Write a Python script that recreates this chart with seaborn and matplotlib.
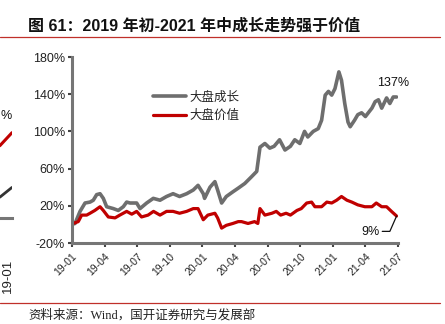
import matplotlib
matplotlib.use("Agg")
import matplotlib.pyplot as plt
import seaborn as sns
import pandas as pd
from matplotlib.lines import Line2D

# ---- data (x = months since 2019-01) ----
growth_m = [0, 0.28, 0.74, 1.2, 1.66, 1.96, 2.27, 2.58, 2.88, 3.19,
            3.8, 4.26, 4.72, 5.03, 5.34, 5.95, 6.26, 6.87, 7.48, 8.1,
            8.7, 9.3, 9.9, 10.55, 11.16, 11.6, 12.08, 12.2, 12.7, 13.15,
            13.4, 13.77, 14.2, 14.8, 15.3, 15.9, 16.5, 17.0, 17.3, 17.75,
            18.2, 18.6, 19.1, 19.6, 20.1, 20.5, 20.97, 21.4, 21.7, 22.2,
            22.66, 22.97, 23.3, 23.6, 23.9, 24.2, 24.56, 24.8, 25.1, 25.4,
            25.6, 26.0, 26.3, 26.65, 27.0, 27.6, 27.9, 28.2, 28.5, 28.95,
            29.25, 29.56, 29.87]
growth = [0, 1, 14, 23, 24, 26, 32, 33, 28, 19,
          17, 15, 19, 24, 23, 23, 17, 23, 28, 26,
          30, 33, 30, 33, 37, 42, 33, 28, 40, 46,
          37, 23, 30, 35, 39, 44, 51, 57, 83, 87,
          82, 84, 91, 80, 84, 91, 87, 100, 94, 100,
          103, 112, 139, 143, 139, 146, 164, 155, 130, 110,
          105, 112, 118, 120, 116, 125, 132, 134, 125, 136,
          130, 137, 137]
value_m = [0, 0.1, 0.58, 0.89, 1.35, 1.66, 2.1, 2.58, 2.88, 3.34,
           3.96, 4.4, 5.03, 5.5, 5.95, 6.4, 7.0, 7.5, 8.1, 8.7,
           9.3, 9.9, 10.55, 11.16, 11.6, 12.08, 12.5, 13.15, 13.4, 13.77,
           14.2, 14.8, 15.3, 15.6, 16.2, 16.8, 17.1, 17.3, 17.75, 18.4,
           18.8, 19.2, 19.7, 20.1, 20.7, 21.1, 21.6, 22.05, 22.35, 22.97,
           23.45, 23.9, 24.35, 24.8, 25.3, 25.75, 26.3, 26.95, 27.6, 28.0,
           28.5, 28.95, 29.4, 29.87]
value = [0, 1, 3, 10, 10, 12, 15, 19, 15, 8,
         7, 10, 14, 11, 14, 8, 10, 14, 10, 14,
         14, 12, 14, 17, 17, 5, 10, 12, 7, -4,
         -1, 1, 3, 3, 1, 3, 1, 17, 10, 12,
         14, 10, 12, 10, 15, 17, 23, 24, 19, 19,
         24, 23, 26, 30, 26, 24, 21, 19, 19, 23,
         19, 19, 14, 9]
series_names = ["大盘成长", "大盘价值"]
tick_pos = [0, 3, 6, 9, 12, 15, 18, 21, 24, 27, 30]
tick_labels = ["19-01", "19-04", "19-07", "19-10", "20-01", "20-04",
               "20-07", "20-10", "21-01", "21-04", "21-07"]
y_ticks = [-20, 20, 60, 100, 140, 180]
end_growth_label = "137%"
end_value_label = "9%"

# fragment of the neighbouring chart visible at the left edge
left_x = [0, 1, 2, 3]
left_red = [54, 62, 70, 86]
left_black = [0, 3, 6, 18]

title = "图 61：2019 年初-2021 年中成长走势强于价值"
source = "资料来源：Wind，国开证券研究与发展部"

sns.set_theme(style="white")
plt.rcParams["font.family"] = ["Liberation Sans", "Noto Sans CJK SC", "DejaVu Sans"]

GRAY = "#6e6e6e"
RED = "#c00000"
SPINE = "#767676"

W, H = 445, 324
fig = plt.figure(figsize=(W / 100, H / 100), dpi=100)

df = pd.DataFrame({
    "m": growth_m + value_m,
    "v": growth + value,
    "s": [series_names[0]] * len(growth_m) + [series_names[1]] * len(value_m),
})

# ---- main axes ----
x0, x1, ytop, ybot = 72, 398, 57, 243
ax = fig.add_axes([x0 / W, 1 - ybot / H, (x1 - x0) / W, (ybot - ytop) / H])
sns.lineplot(data=df, x="m", y="v", hue="s", palette=[GRAY, RED],
             ax=ax, legend=False, estimator=None, sort=False)
ax.lines[0].set_linewidth(2.6)
ax.lines[1].set_linewidth(2.3)
ax.set_xlim(0, 30)
ax.set_ylim(-20, 180)
ax.set_xticks(tick_pos)
ax.set_xticklabels(tick_labels, rotation=45, ha="right", rotation_mode="anchor",
                   fontsize=7.5, color="#222222")
ax.set_yticks(y_ticks)
ax.set_yticklabels([f"{t}%" for t in y_ticks], fontsize=9, color="#222222")
ax.set_xlabel("")
ax.set_ylabel("")
for s in ["top", "right"]:
    ax.spines[s].set_visible(False)
for s in ["left", "bottom"]:
    ax.spines[s].set_color(SPINE)
    ax.spines[s].set_linewidth(2.2)
ax.tick_params(axis="both", which="major", direction="out", length=3, width=1.5,
               color="#444444", pad=2, left=True, bottom=True)
ax.tick_params(axis="x", pad=3)
ax.set_facecolor("none")

# legend
handles = [Line2D([], [], color=GRAY, lw=2.6), Line2D([], [], color=RED, lw=2.3)]
ax.legend(handles, series_names, loc="upper left", bbox_to_anchor=(0.215, 0.88),
          frameon=False, handlelength=2.6, handletextpad=0.3,
          labelspacing=0.45, prop={"family": ["Noto Sans CJK SC"], "size": 9})

# annotations
ax.text(29.55, 152, end_growth_label, ha="center", va="center", fontsize=9, color="#111111")
ax.plot([value_m[-1], 29.25, 28.55], [value[-1], -7.5, -7.5], color="#111111", lw=0.9)
ax.text(28.3, -8, end_value_label, ha="right", va="center", fontsize=9, color="#111111")

# ---- fragment of previous chart at left edge ----
lx1 = 12
axl = fig.add_axes([-60 / W, 1 - 218 / H, (lx1 + 60) / W, (218 - ytop) / H])
axl.plot(left_x, left_red, color=RED, lw=2.2)
axl.plot(left_x, left_black, color="#333333", lw=2.0)
axl.set_xlim(-3, 3)
axl.set_ylim(-20, 180)
axl.set_yticks([])
axl.set_xticks([2.7])
axl.set_xticklabels(["19-01"], rotation=90, fontsize=9.5, color="#222222", va="top")
axl.tick_params(axis="x", direction="out", length=3, width=1.5, color="#444444", pad=26)
for s in ["top", "right", "left"]:
    axl.spines[s].set_visible(False)
axl.spines["bottom"].set_color(SPINE)
axl.spines["bottom"].set_linewidth(2.2)
axl.set_facecolor("none")
fig.text(0.5 / W, 1 - 116 / H, "%", ha="left", va="center", fontsize=9, color="#111111")

# ---- title, rules, source ----
fig.text(28 / W, 1 - 26 / H, title, fontsize=11.5, fontweight="bold", color="#111111",
         ha="left", va="center")
fig.add_artist(Line2D([0, 440 / W], [1 - 37 / H, 1 - 37 / H], color="#c0302a", lw=0.9))
fig.add_artist(Line2D([0, 440 / W], [1 - 303 / H, 1 - 303 / H], color="#c0302a", lw=0.9))
fig.text(28 / W, 1 - 315 / H, source, fontsize=9, color="#222222", ha="left", va="center",
         family=["Liberation Serif", "Noto Sans CJK SC"])

fig.savefig("out.png", dpi=100)
